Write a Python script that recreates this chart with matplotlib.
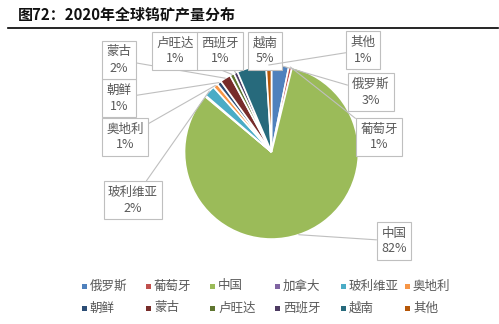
import matplotlib
matplotlib.use("Agg")
import matplotlib.pyplot as plt
from matplotlib.patches import Rectangle
from matplotlib.lines import Line2D
import numpy as np

plt.rcParams['font.family'] = ['Noto Sans CJK SC', 'DejaVu Sans']

# ---- data ----
categories = ['俄罗斯', '葡萄牙', '中国', '加拿大', '玻利维亚', '奥地利',
              '朝鲜', '蒙古', '卢旺达', '西班牙', '越南', '其他']
values = [3.2, 0.6, 82.3, 0.2, 2.1, 0.9, 0.8, 2.0, 0.8, 0.7, 5.4, 1.0]
colors = ['#4F81BD', '#C0504D', '#9BBB59', '#8064A2', '#4BACC6', '#F79646',
          '#2C4D75', '#772C2A', '#5F7530', '#4D3B62', '#276A7C', '#B65708']
title = '图72：2020年全球钨矿产量分布'

# label box centres (pixel layout, y from top)
label_pos = {
    '俄罗斯': (371, 92), '葡萄牙': (379, 137), '中国': (394, 241),
    '玻利维亚': (133, 200), '奥地利': (125, 137), '朝鲜': (119, 98),
    '蒙古': (119, 60), '卢旺达': (175, 51), '西班牙': (220, 51),
    '越南': (265, 51), '其他': (363, 50),
}

W, H = 499, 324
fig = plt.figure(figsize=(W / 100, H / 100), dpi=100)
ax = fig.add_axes([0, 0, 1, 1])
ax.set_xlim(0, W)
ax.set_ylim(0, H)
ax.set_aspect('equal')
ax.axis('off')

def Y(py):
    return H - py

cx, cy, R = 271.5, Y(152), 87
wedges, _ = ax.pie(values, colors=colors, startangle=90, counterclock=False,
                   center=(cx, cy), radius=R, explode=[0.045] * len(values),
                   wedgeprops=dict(edgecolor='white', linewidth=1.2))
ax.set_xlim(0, W)
ax.set_ylim(0, H)

txt_color = '#595959'
for w, name, v in zip(wedges, categories, values):
    if name not in label_pos:
        continue
    mid = np.deg2rad((w.theta1 + w.theta2) / 2)
    wx, wy = w.center
    tx = wx + w.r * np.cos(mid)
    ty = wy + w.r * np.sin(mid)
    lx, ly = label_pos[name]
    ax.annotate(f'{name}\n{int(round(v))}%', xy=(tx, ty), xytext=(lx, Y(ly)),
                ha='center', va='center', fontsize=9, color=txt_color,
                fontweight='light', linespacing=1.3,
                bbox=dict(boxstyle='square,pad=0.35', fc='white', ec='#BFBFBF', lw=0.8),
                arrowprops=dict(arrowstyle='-', color='#BFBFBF', lw=0.8,
                                shrinkA=0, shrinkB=0))

# title
fig.text(18 / W, 1 - 14 / H, title, fontsize=10.8, fontweight='bold',
         color='#111111', ha='left', va='center')
fig.add_artist(Line2D([8 / W, 498 / W], [1 - 27.7 / H] * 2, color='black', lw=1.2))

# legend (manual, Excel-style equal columns)
col_x = [85, 149, 213, 278, 344, 408]
row_y = [286, 308]
for i, (name, c) in enumerate(zip(categories, colors)):
    r, k = divmod(i, 6)
    mx, my = col_x[k], row_y[r]
    ax.add_patch(Rectangle((mx - 2.5, Y(my) - 2.5), 5, 5, color=c, lw=0))
    ax.text(mx + 5, Y(my), name, fontsize=9, color=txt_color, fontweight='light',
            ha='left', va='center')

fig.savefig('out.png', dpi=100)
